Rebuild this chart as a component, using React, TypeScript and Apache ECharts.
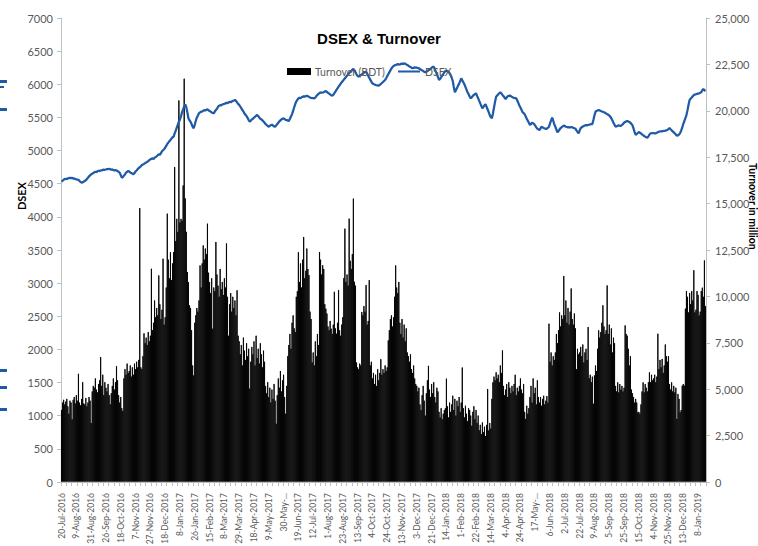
import React, { useEffect, useRef } from 'react';
import * as echarts from 'echarts';

const tickLabels = [
  '20-Jul-2016', '9-Aug-2016', '31-Aug-2016', '26-Sep-2016', '18-Oct-2016', '7-Nov-2016',
  '27-Nov-2016', '18-Dec-2016', '8-Jan-2017', '26-Jan-2017', '15-Feb-2017', '8-Mar-2017',
  '29-Mar-2017', '18-Apr-2017', '9-May-2017', '30-May-...', '19-Jun-2017', '12-Jul-2017',
  '1-Aug-2017', '23-Aug-2017', '13-Sep-2017', '4-Oct-2017', '24-Oct-2017', '13-Nov-2017',
  '3-Dec-2017', '21-Dec-2017', '14-Jan-2018', '1-Feb-2018', '22-Feb-2018', '14-Mar-2018',
  '4-Apr-2018', '24-Apr-2018', '17-May-...', '6-Jun-2018', '2-Jul-2018', '22-Jul-2018',
  '9-Aug-2018', '5-Sep-2018', '25-Sep-2018', '15-Oct-2018', '4-Nov-2018', '25-Nov-2018',
  '13-Dec-2018', '8-Jan-2019',
];

// Daily turnover (million BDT), one row per label interval (14 trading days)
const turnover = [
  3900, 4300, 4450, 4200, 4350, 4500, 4100, 3700, 4400, 4300, 3400, 4450, 4600, 4250,
  4700, 4400, 5850, 4300, 4150, 4500, 5400, 4250, 4200, 4550, 4100, 4300, 4600, 4400,
  3200, 4900, 5200, 5100, 5600, 5000, 4850, 5300, 5500, 6750, 5200, 5800, 4700, 5400,
  5100, 4900, 5300, 4700, 4200, 4800, 5200, 5600, 5000, 5400, 6260, 5500, 4700, 4300,
  4600, 4000, 3850, 5600, 6100, 5800, 6400, 5900, 6000, 6300, 5700, 6200, 5800, 6400,
  6100, 6500, 6200, 6600, 14780, 6200, 6100, 6800, 8030, 7500, 7800, 7400, 8100, 7600,
  7900, 11510, 8200, 8600, 9800, 8900, 9400, 9000, 11150, 9600, 8800, 9300, 12050, 8500,
  8900, 10500, 14480, 12000, 11000, 12400, 10900, 11800, 12410, 16990, 13000, 14200, 13500, 20580,
  14000, 14200, 14100, 16000, 21750, 15300, 13500, 11330, 10790, 9540, 9400, 8200, 6300, 5760,
  8600, 9000, 9400, 9200, 9800, 11690, 10500, 11800, 12770, 12000, 12600, 12300, 13940, 11300,
  10800, 10200, 11000, 8280, 10500, 10300, 12950, 11200, 10600, 10000, 11500, 10400, 10800, 10100,
  11000, 10500, 12880, 10000, 7900, 9600, 10200, 9200, 10000, 9400, 9800, 9000, 10350, 7900,
  7600, 6900, 7400, 6300, 7800, 7100, 6600, 7500, 6800, 7200, 5050, 6500, 7300, 6900,
  7600, 6300, 7900, 6700, 7200, 6400, 7500, 6900, 6200, 7100, 6500, 5200, 4800, 5400,
  4600, 5100, 4300, 5000, 4500, 5300, 4400, 3160, 4700, 5600, 5100, 6000, 4900, 5500,
  5800, 4600, 3700, 5200, 6800, 7400, 8000, 7200, 8600, 9000, 8300, 8100, 10000, 10300,
  12400, 10800, 11800, 10500, 12000, 13220, 11000, 11400, 12600, 11500, 11170, 9200, 8800, 6460,
  7000, 6300, 7600, 6800, 8000, 7400, 12410, 12000, 11200, 11700, 11500, 9600, 9360, 9100,
  8400, 8200, 8700, 8280, 8000, 8500, 10270, 8300, 8010, 8600, 10360, 8200, 7900, 8500,
  8900, 11000, 13670, 10800, 11200, 10600, 14210, 11940, 11500, 12300, 15290, 10810, 10600, 6460,
  6200, 6100, 6400, 6300, 9180, 9000, 9500, 9200, 10630, 8500, 8700, 10900, 6300, 6500,
  5600, 5900, 5300, 5800, 5200, 6100, 5500, 5900, 6640, 5800, 6100, 5900, 6300, 6000,
  6200, 7650, 8200, 8800, 9000, 8400, 8900, 10000, 11690, 10500, 10200, 10800, 8600, 8000,
  8800, 7800, 8500, 7600, 8300, 7000, 6800, 6500, 6900, 6100, 5900, 6300, 5600, 5300,
  5200, 4900, 5100, 4200, 3900, 4700, 5200, 4400, 3600, 4800, 5500, 6280, 5000, 4600,
  5300, 4800, 5400, 4600, 4300, 5100, 4900, 3800, 3500, 4000, 3400, 3700, 3900, 4000,
  5590, 4100, 3500, 4300, 3800, 4200, 4670, 3900, 4500, 3600, 4400, 4100, 4600, 3800,
  4300, 6190, 4000, 3500, 4130, 3700, 3300, 4000, 3900, 3600, 3050, 3800, 4100, 3400,
  3900, 3200, 3600, 2800, 3100, 2600, 3230, 2700, 3000, 2500, 3100, 5030, 2800, 3200,
  2900, 4500, 5390, 5700, 5500, 5930, 5600, 5800, 5400, 6300, 5900, 7110, 5200, 4700,
  5000, 5300, 4600, 5400, 5100, 4800, 5200, 4900, 5300, 5800, 4700, 5100, 4900, 5200,
  5600, 5000, 4800, 5300, 3800, 3420, 4130, 3700, 4000, 4600, 5200, 4300, 5600, 4800,
  5100, 4200, 5500, 4600, 4300, 4600, 4130, 4500, 4670, 4200, 4400, 4650, 4300, 8550,
  6500, 7000, 6300, 6800, 6600, 7000, 8000, 7500, 8200, 9160, 8400, 9000, 8800, 11120,
  9000, 9800, 8600, 9400, 8500, 9200, 10450, 8800, 8500, 9100, 8300, 6100, 7200, 6900,
  7000, 7300, 6800, 7430, 6460, 7000, 7200, 6600, 8370, 5600, 5800, 5400, 5700, 4240,
  5760, 6300, 6000, 7200, 8190, 7800, 8100, 8600, 9540, 8400, 8000, 8200, 10610, 8000,
  8500, 7430, 8300, 7000, 7800, 7500, 5200, 4900, 5390, 4850, 5300, 5000, 5200, 4900,
  5100, 8460, 8000, 7900, 7200, 6300, 6800, 5000, 4800, 4600, 4300, 4500, 4300, 3770,
  3800, 3700, 4200, 4900, 5390, 4850, 5300, 5100, 4900, 5400, 5930, 5400, 5800, 5500,
  5600, 5800, 5400, 5700, 8010, 6100, 6600, 6200, 6650, 5900, 6300, 7430, 6800, 6500,
  6800, 5300, 5000, 5390, 4900, 5200, 4850, 5100, 3420, 4760, 4500, 3770, 3900, 5210,
  5300, 5210, 9360, 10310, 10000, 9160, 10200, 9600, 10310, 9800, 11430, 9160, 9300, 10310,
  10100, 9000, 9200, 10310, 10490, 10000, 11960, 9500,
];

// DSEX index, same trading days
const dsex = [
  4530, 4545, 4560, 4570, 4575, 4568, 4580, 4585, 4590, 4582, 4588, 4578, 4580, 4572,
  4565, 4560, 4558, 4540, 4528, 4515, 4520, 4532, 4540, 4555, 4570, 4590, 4610, 4625,
  4640, 4652, 4660, 4672, 4680, 4676, 4688, 4695, 4690, 4702, 4700, 4708, 4712, 4710,
  4715, 4722, 4718, 4725, 4720, 4712, 4716, 4705, 4700, 4706, 4698, 4690, 4680, 4665,
  4630, 4591, 4600, 4622, 4640, 4668, 4680, 4692, 4685, 4670, 4660, 4652, 4642, 4660,
  4685, 4700, 4720, 4735, 4750, 4762, 4782, 4790, 4798, 4810, 4820, 4828, 4840, 4855,
  4868, 4875, 4883, 4870, 4895, 4900, 4915, 4930, 4944, 4935, 4960, 4990, 5005, 5020,
  5043, 5070, 5100, 5120, 5140, 5159, 5180, 5200, 5209, 5260, 5300, 5345, 5390, 5435,
  5470, 5520, 5580, 5620, 5665, 5697, 5650, 5580, 5487, 5460, 5435, 5400, 5360, 5336,
  5390, 5450, 5500, 5530, 5562, 5575, 5590, 5585, 5600, 5610, 5605, 5615, 5622, 5608,
  5598, 5590, 5575, 5568, 5562, 5590, 5612, 5630, 5660, 5677, 5685, 5680, 5695, 5700,
  5705, 5712, 5720, 5715, 5728, 5735, 5730, 5740, 5748, 5755, 5763, 5750, 5728, 5705,
  5690, 5665, 5640, 5612, 5590, 5560, 5540, 5520, 5490, 5460, 5435, 5452, 5470, 5480,
  5495, 5510, 5525, 5536, 5520, 5500, 5480, 5470, 5455, 5440, 5420, 5400, 5385, 5370,
  5360, 5372, 5385, 5390, 5378, 5365, 5360, 5380, 5400, 5420, 5440, 5455, 5470, 5480,
  5487, 5475, 5462, 5460, 5452, 5446, 5480, 5515, 5550, 5600, 5650, 5700, 5740, 5765,
  5788, 5795, 5790, 5805, 5810, 5818, 5812, 5822, 5828, 5820, 5810, 5800, 5795, 5792,
  5790, 5788, 5800, 5822, 5840, 5855, 5868, 5879, 5872, 5876, 5880, 5890, 5899, 5885,
  5870, 5860, 5848, 5835, 5828, 5840, 5865, 5890, 5915, 5940, 5964, 5985, 6010, 6030,
  6050, 6070, 6090, 6110, 6130, 6150, 6166, 6185, 6200, 6220, 6231, 6210, 6180, 6150,
  6125, 6115, 6128, 6140, 6150, 6162, 6175, 6185, 6190, 6165, 6130, 6100, 6070, 6040,
  6015, 6005, 5998, 5990, 5985, 5982, 5979, 5992, 6005, 6020, 6035, 6050, 6065, 6090,
  6120, 6150, 6180, 6210, 6238, 6260, 6275, 6285, 6291, 6296, 6305, 6298, 6300, 6308,
  6312, 6305, 6316, 6310, 6300, 6292, 6280, 6270, 6262, 6250, 6241, 6248, 6255, 6250,
  6250, 6246, 6241, 6230, 6220, 6210, 6200, 6190, 6181, 6190, 6200, 6212, 6220, 6235,
  6250, 6260, 6266, 6230, 6190, 6150, 6110, 6065, 6080, 6105, 6130, 6155, 6180, 6201,
  6198, 6195, 6190, 6168, 6140, 6100, 6050, 5960, 5879, 5910, 5945, 5980, 6010, 6045,
  6090, 6060, 6030, 6000, 5960, 5920, 5880, 5850, 5815, 5788, 5805, 5825, 5840, 5852,
  5864, 5825, 5790, 5750, 5712, 5675, 5637, 5660, 5682, 5700, 5660, 5620, 5580, 5535,
  5505, 5487, 5560, 5650, 5735, 5813, 5830, 5850, 5865, 5879, 5862, 5840, 5820, 5800,
  5778, 5800, 5820, 5826, 5830, 5820, 5810, 5800, 5795, 5792, 5788, 5755, 5720, 5680,
  5650, 5615, 5580, 5565, 5547, 5515, 5480, 5450, 5418, 5386, 5400, 5420, 5410, 5400,
  5375, 5350, 5330, 5320, 5310, 5335, 5360, 5350, 5340, 5335, 5325, 5330, 5345, 5360,
  5410, 5455, 5496, 5450, 5400, 5360, 5318, 5275, 5295, 5318, 5340, 5352, 5365, 5376,
  5370, 5360, 5355, 5350, 5352, 5348, 5355, 5350, 5345, 5338, 5330, 5305, 5280, 5260,
  5300, 5340, 5352, 5362, 5370, 5378, 5386, 5380, 5385, 5390, 5395, 5398, 5400, 5460,
  5530, 5586, 5598, 5605, 5612, 5605, 5598, 5590, 5585, 5578, 5570, 5560, 5550, 5540,
  5530, 5510, 5487, 5455, 5420, 5390, 5360, 5368, 5375, 5380, 5375, 5370, 5385, 5400,
  5420, 5432, 5440, 5446, 5438, 5430, 5420, 5400, 5380, 5330, 5280, 5235, 5250, 5265,
  5280, 5270, 5260, 5245, 5232, 5220, 5210, 5200, 5194, 5215, 5240, 5260, 5262, 5265,
  5262, 5258, 5260, 5270, 5278, 5285, 5288, 5290, 5290, 5295, 5298, 5300, 5305, 5310,
  5325, 5340, 5322, 5305, 5290, 5275, 5260, 5240, 5225, 5230, 5240, 5265, 5300, 5345,
  5400, 5445, 5490, 5536, 5610, 5690, 5763, 5785, 5800, 5820, 5838, 5845, 5850, 5855,
  5860, 5864, 5872, 5880, 5910, 5929, 5910, 5899,
];

const LABEL_STEP = 14;
const FONT = 'Lato, "Noto Sans", sans-serif';
const GREY = '#595959';
const AXIS_GREY = '#bfbfbf';
const BLUE = '#1f5aa6';

export default function App() {
  const ref = useRef<HTMLDivElement>(null);
  useEffect(() => {
    if (!ref.current) return;
    const chart = echarts.init(ref.current, null, { renderer: 'svg' });
    const categories = dsex.map((_, i) => 'd' + i);
    chart.setOption({
      animation: false,
      backgroundColor: '#ffffff',
      title: {
        text: 'DSEX & Turnover',
        left: 'center',
        top: 26,
        textStyle: { fontFamily: '"Liberation Sans", Arial, sans-serif', fontSize: 15, fontWeight: 'bold', color: '#000' },
      },
      legend: {
        left: 282,
        top: 61,
        itemWidth: 22,
        itemHeight: 5,
        itemGap: 12,
        textStyle: { fontFamily: FONT, fontSize: 10.5, color: GREY },
        data: [
          { name: 'Turnover (BDT)', icon: 'rect' },
          { name: 'DSEX', itemStyle: { opacity: 0 } },
        ],
      },
      grid: { left: 61, right: 52, top: 18, bottom: 64, containLabel: false, outerBoundsMode: 'none' },
      xAxis: {
        type: 'category',
        data: categories,
        boundaryGap: true,
        axisLine: { lineStyle: { color: AXIS_GREY } },
        axisTick: { show: true, interval: 4, length: 4, lineStyle: { color: AXIS_GREY } },
        axisLabel: {
          interval: LABEL_STEP - 1,
          rotate: 90,
          margin: 11,
          fontFamily: FONT,
          fontSize: 8.5,
          color: GREY,
          formatter: (_v: string, i: number) => tickLabels[Math.round(i / LABEL_STEP)] ?? '',
        },
      },
      yAxis: [
        {
          type: 'value',
          position: 'left',
          min: 0,
          max: 7000,
          interval: 500,
          splitLine: { show: false },
          axisLine: { show: true, lineStyle: { color: AXIS_GREY } },
          axisTick: { show: true, length: 4, lineStyle: { color: AXIS_GREY } },
          axisLabel: { fontFamily: FONT, fontSize: 11, color: GREY, margin: 8, formatter: (v: number) => String(v) },
        },
        {
          type: 'value',
          position: 'right',
          min: 0,
          max: 25000,
          interval: 2500,
          splitLine: { show: false },
          axisLine: { show: true, lineStyle: { color: AXIS_GREY } },
          axisTick: { show: true, length: 4, lineStyle: { color: AXIS_GREY } },
          axisLabel: {
            fontFamily: FONT,
            fontSize: 11,
            color: GREY,
            margin: 9,
            formatter: (v: number) => v.toLocaleString('en-US'),
          },
        },
      ],
      series: [
        {
          name: 'Turnover (BDT)',
          type: 'bar',
          yAxisIndex: 1,
          data: turnover,
          barCategoryGap: '0%',
          itemStyle: { color: '#000000', borderColor: '#000000', borderWidth: 0.9 },
          z: 1,
        },
        {
          name: 'DSEX',
          type: 'line',
          yAxisIndex: 0,
          data: dsex,
          symbol: 'none',
          lineStyle: { color: BLUE, width: 2.25 },
          itemStyle: { color: BLUE },
          z: 3,
        },
      ],
      graphic: [
        {
          type: 'text',
          left: 16,
          top: 182,
          rotation: Math.PI / 2,
          style: { text: 'DSEX', fontFamily: FONT, fontSize: 11, fontWeight: 'bold', fill: '#000' },
          silent: true,
        },
        {
          type: 'text',
          x: 758,
          y: 163,
          rotation: -Math.PI / 2,
          style: { text: 'Turnover in million', fontFamily: FONT, fontSize: 10.5, fontWeight: 'bold', fill: '#000' },
          silent: true,
        },
        { type: 'rect', shape: { x: 0, y: 80, width: 7, height: 3 }, style: { fill: BLUE }, silent: true },
        { type: 'rect', shape: { x: 0, y: 86, width: 4, height: 2 }, style: { fill: BLUE }, silent: true },
        { type: 'rect', shape: { x: 0, y: 108, width: 7, height: 3 }, style: { fill: BLUE }, silent: true },
        { type: 'rect', shape: { x: 0, y: 369, width: 7, height: 3 }, style: { fill: BLUE }, silent: true },
        { type: 'rect', shape: { x: 0, y: 386, width: 7, height: 3 }, style: { fill: BLUE }, silent: true },
        { type: 'rect', shape: { x: 0, y: 408, width: 7, height: 3 }, style: { fill: BLUE }, silent: true },
      ],
    });
    return () => chart.dispose();
  }, []);
  return <div ref={ref} style={{ position: 'absolute', left: 0, top: 0, width: 758, height: 546 }} />;
}
